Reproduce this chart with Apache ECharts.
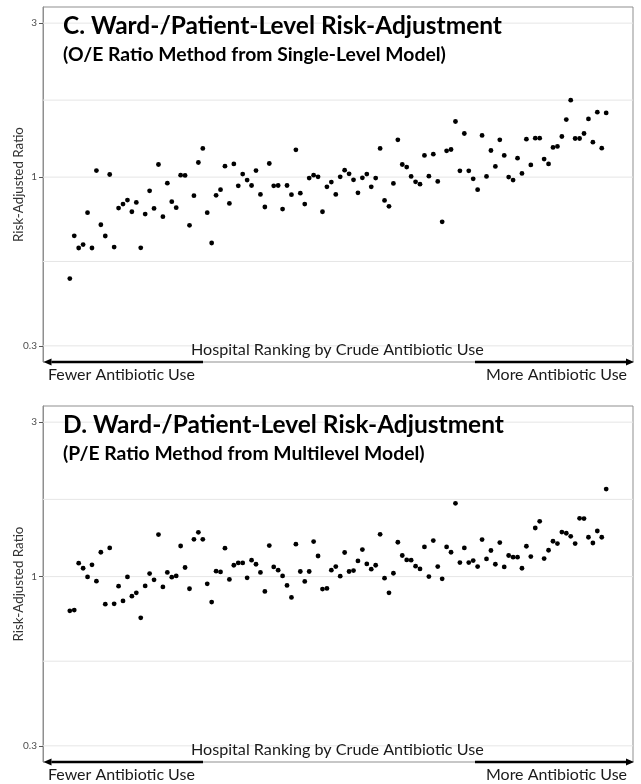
<!DOCTYPE html>
<html><head><meta charset="utf-8">
<script src="https://cdn.jsdelivr.net/npm/echarts@6/dist/echarts.min.js"></script>
<style>html,body{margin:0;padding:0;background:#fff}#chart{width:641px;height:784px}</style>
</head><body><div id="chart"></div>
<script>
// ---- Data ----
// Panel C: O/E ratio, hospitals ordered by crude antibiotic use (rank 1..122)
const ratioOE = [
  0.485, 0.658, 0.603, 0.618, 0.776, 0.603, 1.048, 0.712, 0.657, 1.019,
  0.607, 0.802, 0.825, 0.849, 0.781, 0.835, 0.604, 0.768, 0.907, 0.800,
  1.094, 0.754, 0.958, 0.839, 0.804, 1.014, 1.012, 0.709, 0.876, 1.110,
  1.227, 0.776, 0.625, 0.878, 0.914, 1.081, 0.829, 1.099, 0.940, 1.022,
  0.979, 0.942, 1.048, 0.884, 0.808, 1.102, 0.940, 0.942, 0.796, 0.942,
  0.882, 1.215, 0.892, 0.825, 0.993, 1.014, 1.002, 0.781, 0.933, 0.965,
  0.884, 1.002, 1.051, 1.024, 0.981, 0.894, 0.995, 1.022, 0.933, 0.993,
  1.227, 0.847, 0.812, 0.956, 1.305, 1.094, 1.074, 1.005, 0.967, 0.951,
  1.167, 1.007, 1.178, 0.970, 0.727, 1.206, 1.218, 1.487, 1.046, 1.365,
  1.046, 0.988, 0.914, 1.346, 1.005, 1.209, 1.079, 1.305, 1.167, 1.000,
  0.979, 1.145, 1.027, 1.311, 1.091, 1.320, 1.320, 1.137, 1.099, 1.236,
  1.245, 1.336, 1.508, 1.731, 1.317, 1.317, 1.365, 1.515, 1.283, 1.589,
  1.229, 1.581
];
// Panel D: P/E ratio
const ratioPE = [
  0.784, 0.788, 1.100, 1.061, 0.998, 1.087, 0.968, 1.189, 0.822, 1.226,
  0.824, 0.934, 0.841, 0.998, 0.870, 0.891, 0.746, 0.936, 1.022, 0.977,
  1.348, 0.929, 1.030, 0.996, 1.005, 1.243, 1.067, 0.917, 1.304, 1.370,
  1.304, 0.950, 0.834, 1.039, 1.034, 1.224, 0.980, 1.084, 1.102, 1.102,
  0.991, 1.124, 1.092, 1.030, 0.900, 1.247, 1.071, 1.047, 1.005, 0.939,
  0.862, 1.259, 1.037, 0.966, 1.037, 1.283, 1.158, 0.915, 0.919, 1.047,
  1.074, 1.003, 1.187, 1.037, 1.044, 1.118, 1.212, 1.094, 1.054, 1.084,
  1.351, 0.989, 0.891, 1.024, 1.277, 1.162, 1.126, 1.124, 1.077, 1.056,
  1.235, 1.000, 1.292, 1.074, 0.984, 1.235, 1.189, 1.684, 1.105, 1.226,
  1.105, 1.121, 1.074, 1.301, 1.134, 1.204, 1.092, 1.274, 1.071, 1.162,
  1.148, 1.148, 1.061, 1.241, 1.153, 1.413, 1.482, 1.137, 1.206, 1.286,
  1.265, 1.373, 1.361, 1.332, 1.265, 1.514, 1.511, 1.323, 1.270, 1.383,
  1.323, 1.864
];
const yTickValues = [0.3, 1, 3];
const yGridBreaks = [0.3, 0.5477, 1, 1.7321, 3];
const panelTitles = ['C. Ward-/Patient-Level Risk-Adjustment', 'D. Ward-/Patient-Level Risk-Adjustment'];
const panelSubtitles = ['(O/E Ratio Method from Single-Level Model)', '(P/E Ratio Method from Multilevel Model)'];
const xAxisTitle = 'Hospital Ranking by Crude Antibiotic Use';
const yAxisTitle = 'Risk-Adjusted Ratio';
const leftNote = 'Fewer Antibiotic Use';
const rightNote = 'More Antibiotic Use';

// ---- Layout ----
const FONT = "Lato, 'Open Sans', sans-serif";
const GL = 43, GW = 590;
const X_MIN = -5.05, X_MAX = 128.05;
const panels = [{ top: 7, height: 355 }, { top: 406, height: 356 }];
const ctx = document.createElement('canvas').getContext('2d');
function fit(text, weight, target) {
  ctx.font = weight + ' 100px ' + FONT;
  return 100 * target / ctx.measureText(text).width;
}
const sTitle = fit(panelTitles[0], 'bold', 439);
const sSub = fit(panelSubtitles[0], 'bold', 383);
const sXT = fit(xAxisTitle, 'normal', 293);
const sNote = fit(leftNote, 'normal', 147);
const sYT = fit(yAxisTitle, 'normal', 115);

function txt(text, x, y, size, weight, align, color, rot) {
  return {
    type: 'text', x: x, y: y, rotation: rot || 0, silent: true, z: 100,
    style: {
      text: text, font: weight + ' ' + size + 'px ' + FONT, fill: color,
      align: align, verticalAlign: 'middle', textAlign: align, textVerticalAlign: 'middle'
    }
  };
}
function arrow(x1, x2, y) {
  const dir = x2 > x1 ? 1 : -1;
  const base = x2 - dir * 8;
  return [
    { type: 'line', silent: true, z: 100, shape: { x1: x1, y1: y, x2: base, y2: y }, style: { stroke: '#000', lineWidth: 2.6 } },
    { type: 'polygon', silent: true, z: 100, shape: { points: [[x2, y], [base, y - 3.6], [base, y + 3.6]] }, style: { fill: '#000' } }
  ];
}

const log10 = v => Math.log10(v);
const yMin = log10(0.3) - 0.05, yMax = log10(3) + 0.05;

const grids = [], xAxes = [], yAxes = [], series = [], graphics = [];
panels.forEach((p, i) => {
  const B = p.top + p.height;
  grids.push({ left: GL, width: GW, top: p.top, height: p.height, show: true, borderColor: '#8f8f8f', borderWidth: 1, backgroundColor: '#fff', containLabel: false });
  xAxes.push({ gridIndex: i, type: 'value', min: X_MIN, max: X_MAX, show: false });
  yAxes.push({
    gridIndex: i, type: 'value', min: yMin, max: yMax, position: 'left',
    axisLine: { show: true, onZero: false, lineStyle: { color: '#8f8f8f', width: 1 } },
    splitLine: { show: false },
    axisTick: { show: true, inside: false, length: 4, customValues: yTickValues.map(log10), lineStyle: { color: '#555', width: 1 } },
    axisLabel: {
      show: true, customValues: yTickValues.map(log10), margin: 6, fontSize: 10, color: '#4d4d4d', fontFamily: FONT,
      formatter: v => String(+Math.pow(10, v).toPrecision(1))
    }
  });
  // gridlines as line series through the axis scales
  yGridBreaks.forEach(g => {
    series.push({
      type: 'line', xAxisIndex: i, yAxisIndex: i, z: 1, silent: true, showSymbol: false, symbol: 'none',
      lineStyle: { color: '#e6e6e6', width: 1 }, emphasis: { disabled: true },
      data: [[X_MIN, log10(g)], [X_MAX, log10(g)]]
    });
  });
  const vals = i === 0 ? ratioOE : ratioPE;
  series.push({
    type: 'scatter', xAxisIndex: i, yAxisIndex: i, z: 3,
    symbol: 'circle', symbolSize: 4.8,
    itemStyle: { color: '#000', opacity: 1 },
    data: vals.map((v, k) => [k + 1, log10(v)])
  });
  graphics.push(txt(panelTitles[i], 63, p.top + 19.5, sTitle, 'bold', 'left', '#000'));
  graphics.push(txt(panelSubtitles[i], 63, p.top + 47.4, sSub, 'bold', 'left', '#000'));
  graphics.push(txt(xAxisTitle, 337.3, B - 11.8, sXT, 'normal', 'center', '#1a1a1a'));
  graphics.push(txt(leftNote, 48, B + 12.4, sNote, 'normal', 'left', '#1a1a1a'));
  graphics.push(txt(rightNote, 627, B + 12.4, sNote, 'normal', 'right', '#1a1a1a'));
  graphics.push(txt(yAxisTitle, 19, p.top + p.height / 2, sYT, 'normal', 'center', '#333', Math.PI / 2));
  graphics.push(...arrow(203, 43.5, B));
  graphics.push(...arrow(475, 634, B));
});

const chart = echarts.init(document.getElementById('chart'), null, { renderer: 'canvas' });
chart.setOption({
  animation: false,
  backgroundColor: '#fff',
  grid: grids, xAxis: xAxes, yAxis: yAxes, series: series,
  graphic: { elements: graphics }
});
</script></body></html>
